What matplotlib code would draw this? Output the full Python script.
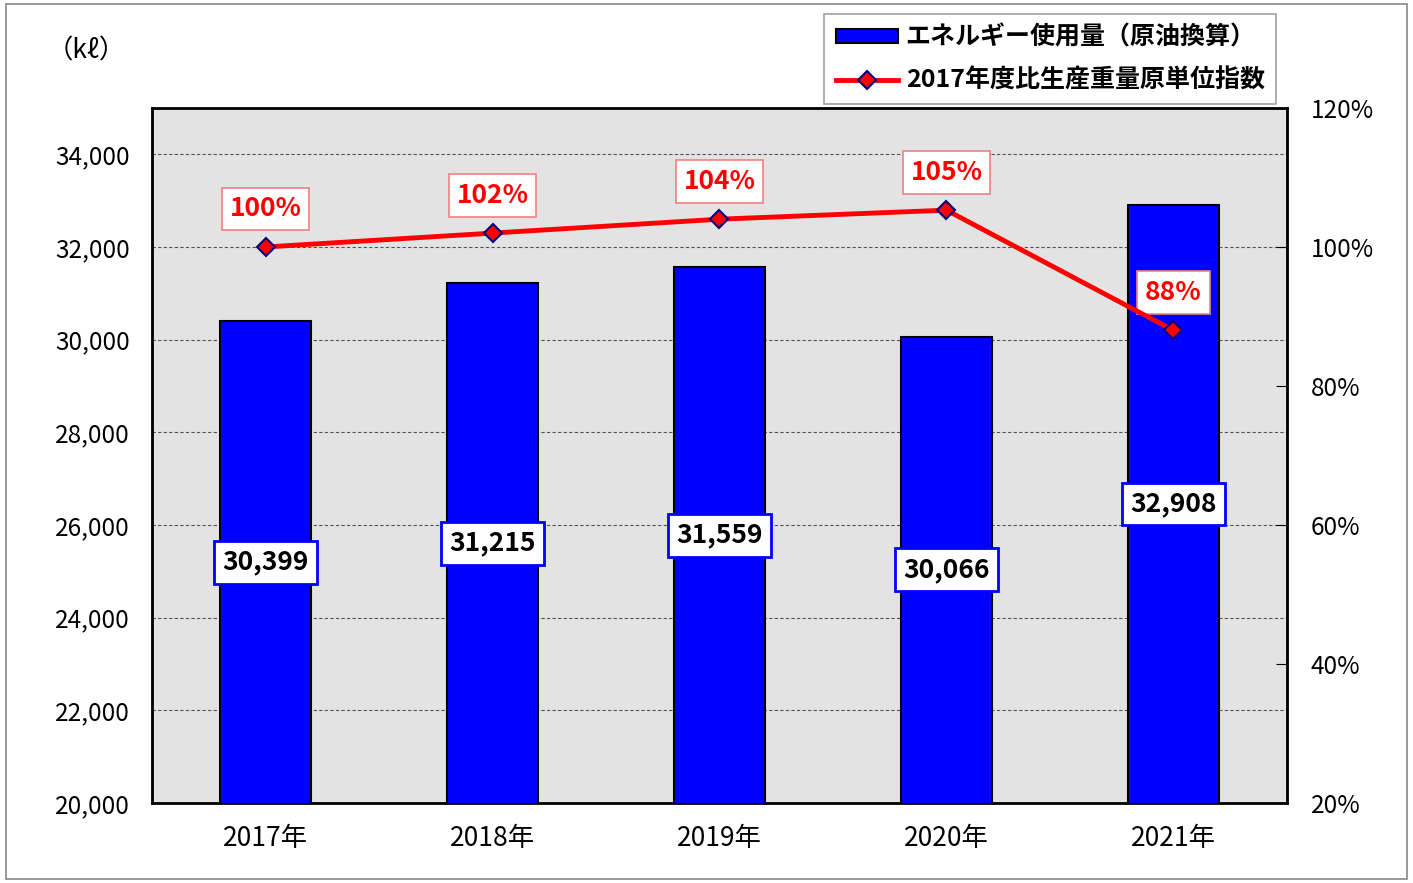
import numpy as np
import matplotlib.pyplot as plt
from matplotlib.patches import Rectangle
from matplotlib.ticker import FuncFormatter

plt.rcParams['font.family'] = ['Noto Sans CJK JP', 'DejaVu Sans']

# Daten
jahre = ['2017年', '2018年', '2019年', '2020年', '2021年']
energie = [30399, 31215, 31559, 30066, 32908]
index_pct = [100, 102, 104, 105.3, 88]
index_label = ['100%', '102%', '104%', '105%', '88%']

x = np.arange(len(jahre))

fig = plt.figure(figsize=(14.13, 8.83), dpi=100)
ax = fig.add_axes([0.1076, 0.0906, 0.8032, 0.7871])
ax.set_facecolor('#e3e3e3')

# Balken
bars = ax.bar(x, energie, width=0.4, color='#0000ff', edgecolor='black', linewidth=1.5,
              label='エネルギー使用量（原油換算）', zorder=3)
ax.set_xlim(-0.5, len(jahre) - 0.5)
ax.set_ylim(20000, 35000)
ax.set_yticks(np.arange(20000, 34001, 2000))
ax.yaxis.set_major_formatter(FuncFormatter(lambda v, p: f'{int(v):,}'))
ax.set_xticks(x)
ax.set_xticklabels(jahre)
ax.tick_params(axis='y', labelsize=17.5, length=0, pad=16)
ax.tick_params(axis='x', labelsize=19, length=0, pad=16)
ax.grid(axis='y', linestyle=(0, (3, 2)), color='#555555', linewidth=0.8, zorder=1)
for s in ax.spines.values():
    s.set_linewidth(2)

for xi, v in zip(x, energie):
    ax.text(xi, (20000 + v) / 2, f'{v:,}', ha='center', va='center', fontsize=19,
            fontweight='bold', color='black', zorder=5,
            bbox=dict(boxstyle='square,pad=0.3', fc='white', ec='#0000ff', lw=2))

# Index-Linie
ax2 = ax.twinx()
ax2.set_ylim(20, 120)
ax2.set_yticks(np.arange(20, 121, 20))
ax2.yaxis.set_major_formatter(FuncFormatter(lambda v, p: f'{int(v)}%'))
ax2.tick_params(axis='y', labelsize=17.5, direction='in', length=8, pad=17)
line, = ax2.plot(x, index_pct, color='#ff0000', lw=3.5, marker='D', markersize=9,
                 markerfacecolor='#ff0000', markeredgecolor='#000080', markeredgewidth=1.5,
                 label='2017年度比生産重量原単位指数', zorder=4)
for xi, v, t in zip(x, index_pct, index_label):
    ax2.annotate(t, (xi, v), xytext=(0, 38), textcoords='offset pixels', ha='center',
                 va='center', fontsize=19, fontweight='bold', color='#ff0000',
                 bbox=dict(boxstyle='square,pad=0.3', fc='white', ec='#f08080', lw=1.2))

# Einheit
fig.text(0.061, 0.942, '（kℓ）', fontsize=19, ha='center', va='center')

# Legende
leg = fig.legend(handles=[bars, line], loc='upper right', bbox_to_anchor=(0.903, 0.984),
                 prop={'weight': 'bold', 'size': 18}, frameon=True, fancybox=False,
                 edgecolor='#888888', handlelength=2.5, handleheight=0.5, borderpad=0.45,
                 labelspacing=0.75, handletextpad=0.3, borderaxespad=0)
leg.get_frame().set_linewidth(1.2)

# Rahmen
fig.patches.append(Rectangle((0.004, 0.005), 0.992, 0.99, transform=fig.transFigure,
                             fill=False, edgecolor='#888888', lw=1.2))

plt.savefig('out.png', dpi=100)
